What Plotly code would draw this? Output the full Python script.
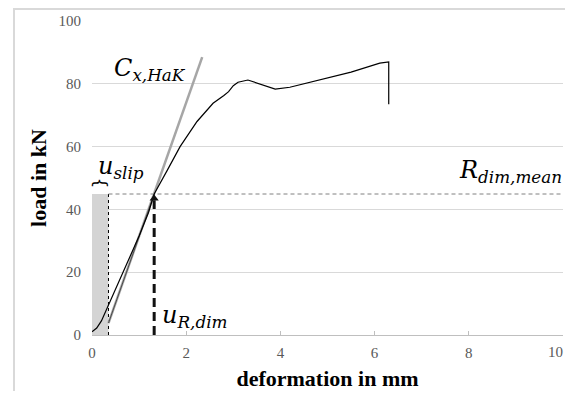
import plotly.graph_objects as go

# ---- data ----
deformation = [0.0, 0.1, 0.2, 0.35, 0.5, 0.8, 1.0, 1.2, 1.32, 1.6, 1.87, 2.23, 2.57, 2.8, 2.9,
               3.0, 3.1, 3.31, 3.57, 3.89, 4.2, 5.0, 5.5, 6.11, 6.3, 6.3]
load = [1.0, 2.2, 4.5, 9.5, 14.5, 24.5, 31.5, 39.0, 44.9, 52.5, 60.0, 68.0, 73.8, 76.3, 77.5,
        79.4, 80.5, 81.2, 79.9, 78.3, 78.9, 81.8, 83.7, 86.6, 87.0, 73.5]

stiffness_x = [0.35, 2.34]          # C_x,HaK line
stiffness_y = [3.8, 88.5]

u_slip = 0.35                       # mm
u_R_dim = 1.32                      # mm
R_dim_mean = 44.9                   # kN

x_ticks = [0, 2, 4, 6, 8, 10]
x_tick_labels = ["0", "2", "4", "6", "8", "10"]
y_ticks = [0, 20, 40, 60, 80, 100]

# page body has an 8px margin, so the figure is sized to the visible window
PAGE_OFF = 8
W, H = 573 - PAGE_OFF, 399 - 2 * PAGE_OFF
ML, MR, MT = 92 - PAGE_OFF, 10, 21 - PAGE_OFF
PW, PH = W - ML - MR, 314
MB = H - MT - PH

SERIF = "Liberation Serif, Times New Roman, Times, serif"
MATH = "DejaVu Serif, serif"
TICK_FONT = dict(family=SERIF, size=15, color="#595959")

fig = go.Figure()

# shaded slip area
fig.add_trace(go.Scatter(x=[0, u_slip, u_slip, 0, 0], y=[0, 0, R_dim_mean, R_dim_mean, 0],
                         mode="lines", fill="toself", fillcolor="#d4d4d4",
                         line=dict(width=0), hoverinfo="skip", showlegend=False))
# dotted vertical at slip
fig.add_trace(go.Scatter(x=[u_slip, u_slip], y=[0, R_dim_mean], mode="lines",
                         line=dict(color="black", width=1, dash="dot"), showlegend=False))
# horizontal dashed R_dim,mean line
fig.add_trace(go.Scatter(x=[u_slip, x_ticks[-1]], y=[R_dim_mean, R_dim_mean], mode="lines",
                         line=dict(color="#808080", width=1, dash="4px,3px"), showlegend=False))
# stiffness line (gray)
fig.add_trace(go.Scatter(x=stiffness_x, y=stiffness_y, mode="lines",
                         line=dict(color="#a6a6a6", width=2.5), showlegend=False))
# thin secant over the gray line
fig.add_trace(go.Scatter(x=[u_slip, u_R_dim], y=[stiffness_y[0], R_dim_mean], mode="lines",
                         line=dict(color="#333333", width=0.8), showlegend=False))
# load-deformation curve
fig.add_trace(go.Scatter(x=deformation, y=load, mode="lines",
                         line=dict(color="black", width=1.2), showlegend=False))
# dashed arrow u_R,dim
fig.add_trace(go.Scatter(x=[u_R_dim, u_R_dim], y=[0, R_dim_mean - 2], mode="lines",
                         line=dict(color="#111111", width=3, dash="9px,5px"), showlegend=False))
fig.add_trace(go.Scatter(x=[u_R_dim], y=[R_dim_mean - 1.4], mode="markers",
                         marker=dict(symbol="triangle-up", size=8, color="#111111"),
                         showlegend=False, cliponaxis=False))

math_font = dict(family=MATH, size=24, color="black")
fig.add_annotation(x=0.43, y=84.5, xanchor="left", yanchor="middle", showarrow=False,
                   text="<i>C</i><sub><i>x,HaK</i></sub>", font=math_font)
fig.add_annotation(x=0.08, y=53.5, xanchor="left", yanchor="middle", showarrow=False,
                   text="<i>u</i><sub><i>slip</i></sub>", font=math_font)
fig.add_annotation(x=10, xshift=1, y=52.0, xanchor="right", yanchor="middle", showarrow=False,
                   text="<i>R</i><sub><i>dim,mean</i></sub>", font=math_font)
fig.add_annotation(x=1.44, y=5.8, xanchor="left", yanchor="middle", showarrow=False,
                   text="<i>u</i><sub><i>R,dim</i></sub>", font=math_font)
# brace over slip area
fig.add_annotation(x=u_slip / 2, y=R_dim_mean + 3.6, showarrow=False, text="{", textangle=90,
                   font=dict(family="DejaVu Sans", size=17, color="black"))
# last x tick label, kept inside the visible window
fig.add_annotation(x=x_ticks[-1], xref="x", y=0, yref="paper", xanchor="right", yanchor="middle",
                   xshift=2, yshift=-17, showarrow=False, text=x_tick_labels[-1], font=TICK_FONT)

# outer light frame
fig.add_shape(type="rect", xref="paper", yref="paper",
              x0=(14 - PAGE_OFF - ML) / PW, x1=1.2, y0=-0.5, y1=(H - MB - 1) / PH,
              line=dict(color="#d9d9d9", width=2), fillcolor="rgba(0,0,0,0)", layer="below")

fig.update_layout(
    width=W, height=H,
    margin=dict(l=ML, r=MR, t=MT, b=MB, autoexpand=False),
    paper_bgcolor="white", plot_bgcolor="white",
    showlegend=False,
    xaxis=dict(range=[0, 10], tickvals=x_ticks, ticktext=x_tick_labels[:-1] + [""],
               showgrid=False, zeroline=False, automargin=False,
               showline=True, linecolor="#bfbfbf", linewidth=1,
               ticks="inside", ticklen=4, tickcolor="#bfbfbf", ticklabelstandoff=4,
               tickfont=TICK_FONT,
               title=dict(text="<b>deformation in mm</b>", standoff=12,
                          font=dict(family=SERIF, size=22, color="black"))),
    yaxis=dict(range=[0, 100], tickvals=y_ticks, showgrid=True, gridcolor="#d9d9d9",
               gridwidth=1, zeroline=False, showline=False, ticks="",
               automargin=False, ticklabelstandoff=10,
               tickfont=TICK_FONT,
               title=dict(text="<b>load in kN</b>", standoff=5,
                          font=dict(family=SERIF, size=22, color="black"))),
)

fig.write_html("out.html")
